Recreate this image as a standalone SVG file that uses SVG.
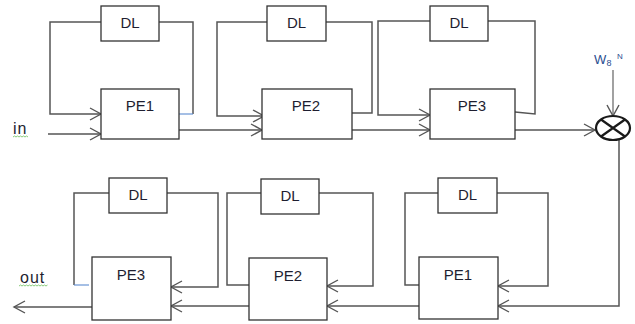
<svg xmlns="http://www.w3.org/2000/svg" width="635" height="324" viewBox="0 0 635 324">
  <style>
    .box { fill: #ffffff; stroke: #333333; stroke-width: 1.3; }
    .wire { fill: none; stroke: #555555; stroke-width: 1.5; }
    .wire-thin { fill: none; stroke: #555555; stroke-width: 1.1; }
    .blue { fill: none; stroke: #5b8bd0; stroke-width: 1.1; }
    .lbl { font-family: "Liberation Sans", Arial, sans-serif; font-size: 15px; fill: #1e1e30; text-anchor: middle; }
    .io { font-family: "Liberation Sans", Arial, sans-serif; font-size: 16px; letter-spacing: 1px; fill: #1e1e30; }
    .tw { font-family: "Liberation Sans", Arial, sans-serif; fill: #2a4d8f; }
    .squig { fill: none; stroke: #6cbf5a; stroke-width: 0.8; }
  </style>
  <defs>
    <marker id="arr" markerUnits="userSpaceOnUse" markerWidth="14" markerHeight="14" viewBox="0 0 14 14" refX="12" refY="7" orient="auto">
      <path d="M1,1 L12,7 L1,13" fill="none" stroke="#555555" stroke-width="1.4"/>
    </marker>
  </defs>

  <!-- connectors -->
  <g id="connectors">
    <!-- stage 1 (top) -->
    <path class="wire" d="M101,22 H50 V114 H101" marker-end="url(#arr)"/>
    <path class="wire" d="M159,22 H193 V114"/>
    <path class="blue" d="M193,114 H179"/>
    <path class="wire" d="M48,134 H101" marker-end="url(#arr)"/>
    <path class="wire" d="M179,130 H262" marker-end="url(#arr)"/>
    <!-- stage 2 (top) -->
    <path class="wire" d="M267,22 H217 V116 H264" marker-end="url(#arr)"/>
    <path class="wire" d="M326,22 H372 V113 H352"/>
    <path class="wire" d="M352,130 H430" marker-end="url(#arr)"/>
    <!-- stage 3 (top) -->
    <path class="wire" d="M430,21 H378 V115 H430" marker-end="url(#arr)"/>
    <path class="wire" d="M488,21 H535 V114 L515,112"/>
    <path class="wire" d="M515,130 H595" marker-end="url(#arr)"/>
    <!-- twiddle factor into multiplier -->
    <path class="wire-thin" d="M613,70 V116" marker-end="url(#arr)"/>
    <!-- multiplier to bottom row -->
    <path class="wire" d="M619,140 V306 H498" marker-end="url(#arr)"/>
    <!-- stage 1 (bottom) -->
    <path class="wire" d="M497,193 H548 V286 H498" marker-end="url(#arr)"/>
    <path class="wire" d="M438,193 H405 V285 H419"/>
    <path class="wire" d="M419,306 H327" marker-end="url(#arr)"/>
    <!-- stage 2 (bottom) -->
    <path class="wire" d="M319,193 H373 V286 H327" marker-end="url(#arr)"/>
    <path class="wire" d="M261,193 H227 V285 H249"/>
    <path class="wire" d="M249,306 H171" marker-end="url(#arr)"/>
    <!-- stage 3 (bottom) -->
    <path class="wire" d="M167,193 H218 V287 H171" marker-end="url(#arr)"/>
    <path class="wire" d="M109,193 H74 V285"/>
    <path class="blue" d="M74,285 H89"/>
    <path class="wire" d="M92,307 H14" marker-end="url(#arr)"/>
  </g>

  <!-- top row -->
  <g id="dl-top-1"><rect class="box" x="101" y="6" width="58" height="35"/><text class="lbl" x="130" y="28">DL</text></g>
  <g id="pe-top-1"><rect class="box" x="101" y="89" width="78" height="50"/><text class="lbl" x="140" y="111">PE1</text></g>
  <g id="dl-top-2"><rect class="box" x="267" y="6" width="59" height="35"/><text class="lbl" x="296.5" y="28">DL</text></g>
  <g id="pe-top-2"><rect class="box" x="262" y="89" width="90" height="50"/><text class="lbl" x="306" y="111">PE2</text></g>
  <g id="dl-top-3"><rect class="box" x="430" y="6" width="58" height="35"/><text class="lbl" x="459" y="28">DL</text></g>
  <g id="pe-top-3"><rect class="box" x="430" y="89" width="85" height="50"/><text class="lbl" x="472" y="111">PE3</text></g>

  <!-- twiddle multiplier -->
  <g id="multiplier">
    <ellipse cx="613" cy="128" rx="17" ry="12" fill="#ffffff" stroke="#1a1a1a" stroke-width="2.2"/>
    <path d="M601,119.5 L625,136.5 M601,136.5 L625,119.5" stroke="#1a1a1a" stroke-width="2.2" fill="none"/>
  </g>
  <g id="twiddle-label">
    <text class="tw" x="594" y="64" font-size="13">W</text>
    <text class="tw" x="606.5" y="66" font-size="9">8</text>
    <text class="tw" x="617" y="59" font-size="8">N</text>
  </g>

  <!-- bottom row -->
  <g id="dl-bot-1"><rect class="box" x="438" y="178" width="59" height="35"/><text class="lbl" x="467.5" y="200">DL</text></g>
  <g id="pe-bot-1"><rect class="box" x="419" y="257" width="79" height="62"/><text class="lbl" x="458" y="280">PE1</text></g>
  <g id="dl-bot-2"><rect class="box" x="261" y="179" width="58" height="35"/><text class="lbl" x="290" y="201">DL</text></g>
  <g id="pe-bot-2"><rect class="box" x="249" y="258" width="78" height="62"/><text class="lbl" x="288" y="281">PE2</text></g>
  <g id="dl-bot-3"><rect class="box" x="109" y="178" width="58" height="35"/><text class="lbl" x="138" y="200">DL</text></g>
  <g id="pe-bot-3"><rect class="box" x="92" y="257" width="79" height="63"/><text class="lbl" x="131" y="280">PE3</text></g>

  <!-- input / output labels -->
  <g id="label-in">
    <text class="io" x="13" y="134">in</text>
    <polyline class="squig" points="13,137 14.5,136 16,137 17.5,136 19,137 20.5,136 22,137 23.5,136 25,137 26.5,136 28,137"/>
  </g>
  <g id="label-out">
    <text class="io" x="20" y="283">out</text>
    <polyline class="squig" points="19,286 20.5,285 22,286 23.5,285 25,286 26.5,285 28,286 29.5,285 31,286 32.5,285 34,286 35.5,285 37,286 38.5,285 40,286 41.5,285 43,286 44.5,285 46,286 47.5,285"/>
  </g>
</svg>
